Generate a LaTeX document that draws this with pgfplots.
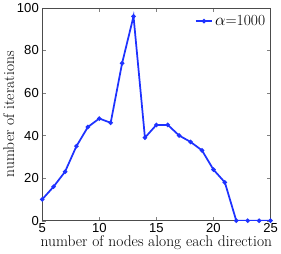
\documentclass[border=0pt]{standalone}
\usepackage{pgfplots}
\pgfplotsset{compat=1.18}
\usepackage{fontspec}
\newfontfamily\ticks{Liberation Sans}
\begin{document}
\begin{tikzpicture}
\begin{axis}[
  scale only axis,
  width=236pt, height=220pt,
  xmin=5, xmax=25, ymin=0, ymax=100,
  xtick={5,10,15,20,25}, ytick={0,20,40,60,80,100},
  tick align=inside, tick pos=both,
  major tick length=4pt,
  tick label style={font=\fontsize{13.5}{14}\ticks},
  xticklabel style={yshift=1pt},
  yticklabel style={xshift=0pt},
  /pgf/number format/assume math mode=true,
  xlabel={number of nodes along each direction},
  ylabel={number of iterations},
  label style={font=\fontsize{16}{17}\selectfont},
  xlabel style={yshift=3pt},
  ylabel style={yshift=-4pt},
  axis line style={black!70, line width=0.6pt},
  legend style={draw=none, fill=none, at={(0.99,0.98)}, anchor=north east, font=\fontsize{16}{17}\selectfont, inner sep=1pt},
  legend cell align=left,
]
\addplot[color={rgb,255:red,30;green,50;blue,255}, line width=1.8pt, mark=*, mark size=1.3pt] coordinates {
(5,10) (6,16) (7,23) (8,35) (9,44) (10,48) (11,46) (12,74) (13,96) (14,39) (15,45) (16,45) (17,40) (18,37) (19,33) (20,24) (21,18) (22,0) (23,0) (24,0) (25,0)
};
\addlegendentry{$\alpha$=1000}
\end{axis}
\end{tikzpicture}
\end{document}
